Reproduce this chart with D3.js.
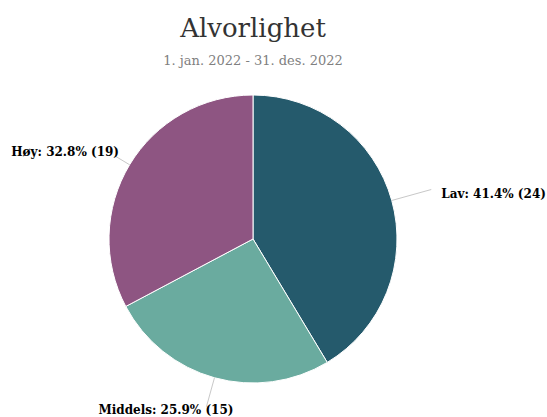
<!DOCTYPE html>
<html>
<head>
<meta charset="utf-8">
<script src="https://cdn.jsdelivr.net/npm/d3@7"></script>
<style>
  body { margin: 0; background: #fff; }
  svg { display: block; }
</style>
</head>
<body>
<svg id="chart" width="547" height="417"></svg>
<script>
// data
var categories = ['Lav', 'Middels', 'Høy'];
var counts = [24, 15, 19];
var colors = ['#255a6c', '#6aab9f', '#8e5582'];

var width = 547, height = 417;
var cx = 253, cy = 239, radius = 144;

// label layout: connector length + text offset per slice
var labelLayout = {
    'Lav': { rc: 185, anchor: 'start', dx: 10, dy: 8 },
    'Middels': { rc: 174, anchor: 'end', dx: 27, dy: 7 },
    'Høy': { rc: 161, anchor: 'end', dx: 4, dy: 0 }
};

var svg = d3.select('#chart');

// tittel
svg.append('text')
    .attr('x', cx)
    .attr('y', 37)
    .attr('text-anchor', 'middle')
    .style('font-family', 'DejaVu Serif')
    .style('font-size', '26px')
    .style('fill', '#333333')
    .text('Alvorlighet');

svg.append('text')
    .attr('x', cx)
    .attr('y', 65)
    .attr('text-anchor', 'middle')
    .style('font-family', 'DejaVu Serif')
    .style('font-size', '13px')
    .style('fill', '#808080')
    .text('1. jan. 2022 - 31. des. 2022');

var data = categories.map(function (c, i) {
    return { name: c, value: counts[i], color: colors[i] };
});
var total = d3.sum(counts);

var pie = d3.pie().sort(null).value(function (d) { return d.value; });
var arc = d3.arc().innerRadius(0).outerRadius(radius);
var arcs = pie(data);

var g = svg.append('g').attr('transform', 'translate(' + cx + ',' + cy + ')');

g.selectAll('path.slice')
    .data(arcs)
    .enter()
    .append('path')
    .attr('class', 'slice')
    .attr('d', arc)
    .attr('fill', function (d) { return d.data.color; })
    .attr('stroke', '#ffffff')
    .attr('stroke-width', 1);

function pointAt(a, r) {
    return [Math.sin(a) * r, -Math.cos(a) * r];
}

// connectors
g.selectAll('path.connector')
    .data(arcs)
    .enter()
    .append('path')
    .attr('class', 'connector')
    .attr('d', function (d) {
        var a = (d.startAngle + d.endAngle) / 2;
        var p0 = pointAt(a, radius);
        var p1 = pointAt(a, labelLayout[d.data.name].rc);
        return 'M' + p0[0] + ',' + p0[1] + 'L' + p1[0] + ',' + p1[1];
    })
    .attr('fill', 'none')
    .attr('stroke', '#c8c8c8')
    .attr('stroke-width', 1);

// labels
g.selectAll('text.label')
    .data(arcs)
    .enter()
    .append('text')
    .attr('class', 'label')
    .attr('x', function (d) {
        var a = (d.startAngle + d.endAngle) / 2;
        var L = labelLayout[d.data.name];
        return pointAt(a, L.rc)[0] + L.dx;
    })
    .attr('y', function (d) {
        var a = (d.startAngle + d.endAngle) / 2;
        var L = labelLayout[d.data.name];
        return pointAt(a, L.rc)[1] + L.dy;
    })
    .attr('text-anchor', function (d) { return labelLayout[d.data.name].anchor; })
    .style('font-family', 'DejaVu Serif')
    .style('font-size', '12px')
    .style('font-weight', 'bold')
    .style('fill', '#000000')
    .text(function (d) {
        var pct = (d.data.value / total * 100).toFixed(1);
        return d.data.name + ': ' + pct + '% (' + d.data.value + ')';
    });
</script>
</body>
</html>
